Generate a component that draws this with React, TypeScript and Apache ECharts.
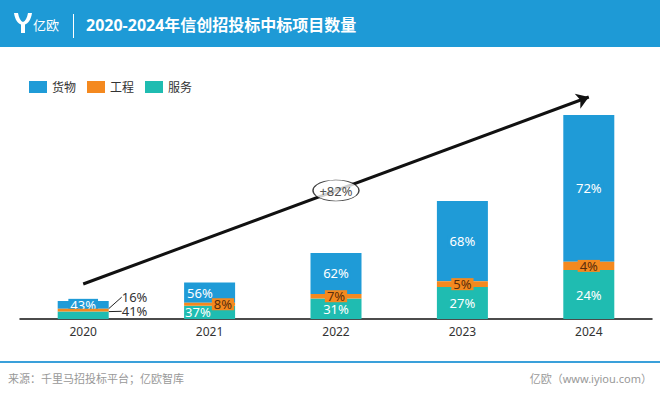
import React, { useEffect, useRef } from 'react';
import * as echarts from 'echarts';

// ---- data ----
const years = ['2020', '2021', '2022', '2023', '2024'];
const goods = [77, 202, 409, 802, 1469];
const engineering = [29, 29, 46, 59, 82];
const services = [74, 133, 205, 319, 490];
const goodsPct = ['43%', '56%', '62%', '68%', '72%'];
const engPct = ['16%', '8%', '7%', '5%', '4%'];
const servPct = ['41%', '37%', '31%', '27%', '24%'];
const growthLabel = '+82%';
const trendStart = 350;
const trendEnd = 2220;
const trendMid = 1285;

const BLUE = '#1f9bd7';
const ORANGE = '#f4891f';
const TEAL = '#1fbcb1';
const HEADER = '#1e9ad6';
const FONT = '"Noto Sans", "Noto Sans CJK SC", sans-serif';

let registered = false;
function registerLogo() {
  if (registered) return;
  registered = true;
  const d =
    'M0,0 L4,0 C5,5 6.5,8 9,9 C11.5,8 13,5 14,0 L18,0 C17,7 14,10.5 11,11.5 L11,20 L7,20 L7,11.5 C4,10.5 1,7 0,0 Z';
  echarts.graphic.registerShape('yiouLogo', echarts.graphic.extendPath(d, {}) as any);
}

export default function App() {
  const ref = useRef<HTMLDivElement>(null);
  useEffect(() => {
    if (!ref.current) return;
    registerLogo();
    const chart = echarts.init(ref.current, undefined, { renderer: 'svg' });

    const outsideLabel = {
      position: 'right',
      distance: 13,
      color: '#333',
      backgroundColor: 'transparent',
      padding: 0,
    };

    const servData = services.map((v, i) => {
      if (i === 0) return { value: v, label: outsideLabel, labelLine: { show: true, lineStyle: { color: '#222', width: 1 } } };
      if (i === 1) return { value: v, label: { position: 'insideLeft', distance: 1 } };
      return v;
    });
    const engData = engineering.map((v, i) => {
      if (i === 0) return { value: v, label: outsideLabel, labelLine: { show: true, lineStyle: { color: '#222', width: 1 } } };
      if (i === 1) return { value: v, label: { position: 'insideRight', distance: 1 } };
      return v;
    });
    const goodsData = goods.map((v, i) => {
      if (i === 1) return { value: v, label: { position: 'insideLeft', distance: 1 } };
      return v;
    });

    const option: any = {
      animation: false,
      textStyle: { fontFamily: FONT },
      grid: { left: 20, right: 8, top: 89, bottom: 75 },
      legend: {
        data: ['货物', '工程', '服务'],
        left: 24,
        top: 76,
        itemWidth: 18,
        itemHeight: 12,
        itemGap: 11,
        icon: 'rect',
        textStyle: { color: '#333', fontSize: 12, fontFamily: FONT },
      },
      xAxis: {
        type: 'category',
        data: years,
        axisLine: { lineStyle: { color: '#111', width: 1.5 } },
        axisTick: { show: false },
        axisLabel: { color: '#333', fontSize: 12, margin: 6 },
      },
      yAxis: { type: 'value', min: 0, max: 2300, show: false },
      series: [
        {
          name: '服务',
          type: 'bar',
          stack: 'total',
          barWidth: 51,
          itemStyle: { color: TEAL },
          label: {
            show: true,
            position: 'inside',
            color: '#fff',
            fontSize: 13,
            lineHeight: 12,
            formatter: (p: any) => servPct[p.dataIndex],
          },
          labelLayout: (p: any) => (p.dataIndex === 0 ? { dy: -4 } : {}),
          data: servData,
        },
        {
          name: '工程',
          type: 'bar',
          stack: 'total',
          barWidth: 51,
          z: 3,
          itemStyle: { color: ORANGE },
          label: {
            show: true,
            position: 'inside',
            color: '#5a2d0c',
            fontSize: 13,
            lineHeight: 12,
            backgroundColor: ORANGE,
            padding: [0, 2],
            formatter: (p: any) => engPct[p.dataIndex],
          },
          labelLayout: (p: any) => (p.dataIndex === 0 ? { dy: -13 } : {}),
          data: engData,
        },
        {
          name: '货物',
          type: 'bar',
          stack: 'total',
          barWidth: 51,
          itemStyle: { color: BLUE },
          label: {
            show: true,
            position: 'inside',
            color: '#fff',
            fontSize: 13,
            lineHeight: 12,
            backgroundColor: BLUE,
            padding: [0, 2],
            formatter: (p: any) => goodsPct[p.dataIndex],
          },
          data: goodsData,
        },
        {
          name: 'growth',
          type: 'scatter',
          z: 10,
          symbol: 'circle',
          symbolSize: [46, 21],
          itemStyle: { color: '#fff', borderColor: '#111', borderWidth: 1 },
          label: { show: true, position: 'inside', formatter: growthLabel, color: '#222', fontSize: 13 },
          emphasis: { disabled: true },
          data: [[years[2], trendMid]],
          markLine: {
            silent: true,
            z: 4,
            symbol: ['none', 'arrow'],
            symbolSize: 12,
            lineStyle: { color: '#111', width: 3, type: 'solid' },
            label: { show: false },
            emphasis: { disabled: true },
            data: [[{ coord: [years[0], trendStart] }, { coord: [years[4], trendEnd] }]],
          },
        },
      ],
      graphic: [
        { type: 'rect', shape: { x: 0, y: 0, width: 660, height: 47 }, style: { fill: HEADER }, silent: true },
        { type: 'yiouLogo', x: 14, y: 13, scaleX: 1, scaleY: 1, style: { fill: '#fff' }, silent: true },
        {
          type: 'text',
          x: 33,
          y: 25,
          style: { text: '亿欧', fill: '#fff', fontSize: 13, fontFamily: FONT, verticalAlign: 'middle' },
          silent: true,
        },
        { type: 'line', shape: { x1: 73.5, y1: 14, x2: 73.5, y2: 38 }, style: { stroke: '#fff', lineWidth: 1 }, silent: true },
        {
          type: 'text',
          x: 86,
          y: 25,
          style: {
            text: '2020-2024年信创招投标中标项目数量',
            fill: '#fff',
            fontSize: 16,
            fontWeight: 'bold',
            fontFamily: FONT,
            verticalAlign: 'middle',
          },
          silent: true,
        },
        { type: 'line', shape: { x1: 0, y1: 362, x2: 660, y2: 362 }, style: { stroke: '#3aa0da', lineWidth: 2 }, silent: true },
        {
          type: 'text',
          x: 8,
          y: 378,
          style: { text: '来源：千里马招投标平台；亿欧智库', fill: '#999', fontSize: 11, fontFamily: FONT, verticalAlign: 'middle' },
          silent: true,
        },
        {
          type: 'text',
          x: 652,
          y: 378,
          style: { text: '亿欧（www.iyiou.com）', fill: '#999', fontSize: 11, fontFamily: FONT, align: 'right', verticalAlign: 'middle' },
          silent: true,
        },
      ],
    };
    chart.setOption(option);
    return () => chart.dispose();
  }, []);
  return (
    <div
      ref={ref}
      style={{ position: 'fixed', left: 0, top: 0, width: 660, height: 394, background: '#fff' }}
    />
  );
}
